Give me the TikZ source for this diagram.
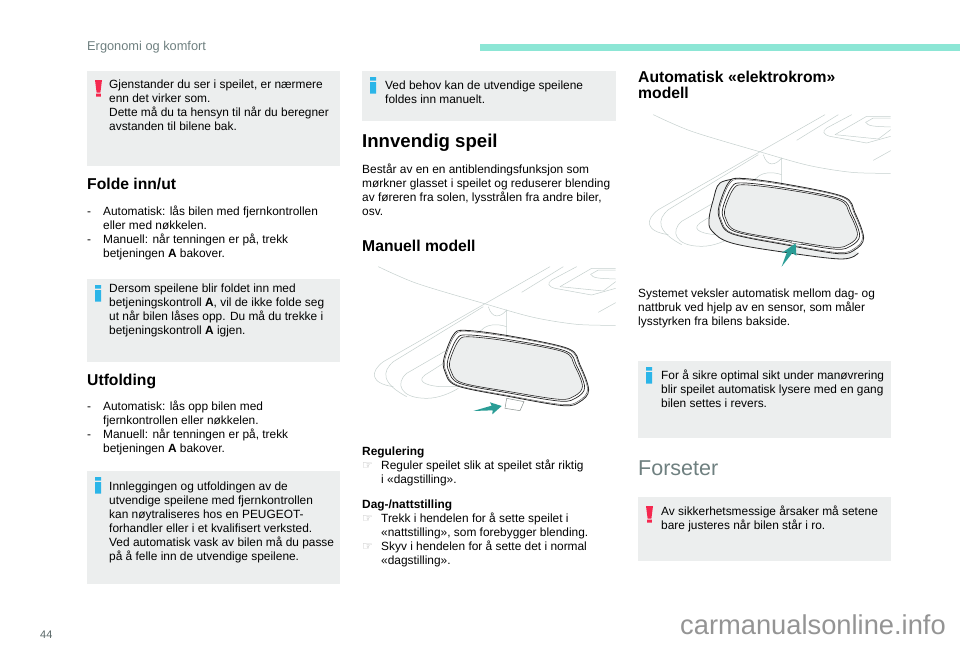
\documentclass[tikz,border=0pt]{standalone}
\usepackage{fontspec}
\setmainfont{Liberation Sans}
\newfontfamily\fingerfont{DejaVu Sans}
\usepackage{xcolor}

\definecolor{boxgrey}{HTML}{ECEEEE}
\definecolor{barmint}{HTML}{8CE6D5}
\definecolor{headgrey}{HTML}{6F8080}
\definecolor{warnred}{HTML}{F5284F}
\definecolor{infoblue}{HTML}{2BB5E8}
\definecolor{arrowteal}{HTML}{2A9D96}
\definecolor{sketchline}{HTML}{C5D0CE}

\tikzset{
  notebox/.style={fill=boxgrey,draw=none},
  bodytext/.style={font=\fontsize{11.9}{14}\selectfont,align=left,inner sep=0pt,anchor=north west,yshift=0.8pt},
  subhead/.style={font=\fontsize{15.7}{16}\bfseries\selectfont,align=left,inner sep=0pt,anchor=north west},
  sketch/.style={draw=sketchline,line width=0.5pt},
}
\newcommand{\warnicon}[2]{\fill[warnred] (#1,#2) ++(0,9) -- ++(7,0) -- ++(-1.6,12.5) -- ++(-3.8,0) -- cycle (#1+1.2,#2+22.5) rectangle (#1+5.8,#2+25.5);}
\newcommand{\infoicon}[2]{\fill[infoblue] (#1,#2+6) rectangle (#1+6,#2+9.5) (#1,#2+11) rectangle (#1+6,#2+22.5);}
\newcommand{\fing}{\makebox[19pt][l]{\fingerfont\fontsize{12}{10}\selectfont\textcolor{gray!70}{☞}}}
\newcommand{\dashitem}{\makebox[16pt][l]{-}}
\newcommand{\indentitem}{\hspace*{16pt}}
\newcommand{\fingindent}{\hspace*{19pt}}
% lines behind the mirror, in units of a third of a pixel
\newcommand{\carlines}{
  \draw[sketch] plot[smooth] coordinates {(85,35) (200,85) (400,145) (550,187) (680,208) (797,211)};
  \draw[sketch] (600,35) -- (100,320) .. controls (60,350) and (60,385) .. (130,395);
  \draw[sketch] (515,112) -- (640,35);
  \draw[sketch] (400,155) -- (130,320) .. controls (95,350) and (95,385) .. (170,425);
  \draw[sketch] (395,225) -- (170,355) .. controls (135,385) and (150,430) .. (230,430) .. controls (265,430) and (300,415) .. (325,400);
  \draw[sketch] (280,325) -- (225,360) .. controls (205,375) and (215,390) .. (270,395) -- (325,395);
  \draw[sketch] (415,155) .. controls (425,190) and (450,190) .. (470,165) -- (470,240);
  \draw[sketch] (395,225) .. controls (410,208) and (440,205) .. (470,215);
  \draw[sketch] (680,35) -- (605,75) .. controls (590,85) and (595,95) .. (615,100) -- (725,120) -- (797,100);
  \draw[sketch] (630,95) -- (725,40) -- (797,40);
  \draw[sketch] (630,95) -- (760,108) -- (797,80);
  \draw[sketch] (722,58) -- (745,45) -- (797,45);
  \draw[sketch] (722,58) .. controls (730,70) and (745,70) .. (797,72);
  \draw[sketch] (745,172) -- (797,143);
}
\newcommand{\mirrorpath}{plot[smooth cycle,tension=0.55] coordinates {(345,226) (480,243) (655,281) (690,330) (716,405) (690,440) (640,452) (480,425) (320,392) (285,350) (282,310) (310,240)}}
\newcommand{\mirrorframe}{
  \fill[white,draw=black!85,line width=0.8pt] \mirrorpath;
  \begin{scope}[shift={(498,340)},xscale=.985,yscale=.97,shift={(-498,-340)}]
    \draw[black!70,line width=0.4pt] \mirrorpath;
  \end{scope}
  \begin{scope}[shift={(498,340)},xscale=.945,yscale=.88,shift={(-498,-340)}]
    \draw[black!85,line width=0.7pt] \mirrorpath;
  \end{scope}
  \begin{scope}[shift={(498,340)},xscale=.915,yscale=.83,shift={(-498,-340)}]
    \draw[black!85,fill=boxgrey,line width=0.6pt] \mirrorpath;
  \end{scope}
}

\begin{document}
\begin{tikzpicture}[x=1pt,y=-1pt]
        \useasboundingbox (0,0) rectangle (960,649);
        \fill[white] (0,0) rectangle (960,649);
        \fill[barmint] (480,44) rectangle (960,50.5);
        \node[font=\fontsize{12.8}{14}\selectfont,text=headgrey,inner sep=0pt,anchor=base west](chapter) at (87,50) {Ergonomi og komfort};

        \fill[notebox] (87,71) rectangle (340,166);
        \fill[notebox] (87,279) rectangle (340,362);
        \fill[notebox] (87,471) rectangle (340,584);
        \fill[notebox] (362,71) rectangle (616,121);
        \fill[notebox] (638,361) rectangle (891,438);
        \fill[notebox] (638,497) rectangle (891,561);
        \warnicon{95}{71}
        \infoicon{95}{279}
        \infoicon{95}{471}
        \infoicon{370}{71}
        \infoicon{646}{361}
        \warnicon{646}{497}

        % left column
        \node[bodytext](gjenstander) at (109,80) {Gjenstander du ser i speilet, er nærmere\\enn det virker som.\\Dette må du ta hensyn til når du beregner\\avstanden til bilene bak.};
        \node[subhead](folde) at (87,178) {Folde inn/ut};
        \node[bodytext](foldelist) at (87,206) {\dashitem Automatisk: lås bilen med fjernkontrollen\\\indentitem eller med nøkkelen.\\\dashitem Manuell: når tenningen er på, trekk\\\indentitem betjeningen \textbf{A} bakover.};
        \node[bodytext](dersom) at (109,284) {Dersom speilene blir foldet inn med\\betjeningskontroll \textbf{A}, vil de ikke folde seg\\ut når bilen låses opp. Du må du trekke i\\betjeningskontroll \textbf{A} igjen.};
        \node[subhead](utfolding) at (87,374) {Utfolding};
        \node[bodytext](utfoldlist) at (87,401) {\dashitem Automatisk: lås opp bilen med\\\indentitem fjernkontrollen eller nøkkelen.\\\dashitem Manuell: når tenningen er på, trekk\\\indentitem betjeningen \textbf{A} bakover.};
        \node[bodytext](innlegging) at (109,482) {Innleggingen og utfoldingen av de\\utvendige speilene med fjernkontrollen\\kan nøytraliseres hos en PEUGEOT-\\forhandler eller i et kvalifisert verksted.\\Ved automatisk vask av bilen må du passe\\på å felle inn de utvendige speilene.};

        % middle column
        \node[bodytext](vedbehov) at (385,81) {Ved behov kan de utvendige speilene\\foldes inn manuelt.};
        \node[font=\fontsize{18.6}{20}\bfseries\selectfont,inner sep=0pt,anchor=base west](innvendig) at (362,147) {Innvendig speil};
        \node[bodytext](bestar) at (362,164) {Består av en en antiblendingsfunksjon som\\mørkner glasset i speilet og reduserer blending\\av føreren fra solen, lysstrålen fra andre biler,\\osv.};
        \node[subhead](manuell) at (362,240) {Manuell modell};
        \node[bodytext](regulering) at (362,447) {\textbf{Regulering}\\\fing Reguler speilet slik at speilet står riktig\\\fingindent i «dagstilling».};
        \node[bodytext](dagnatt) at (362,500) {\textbf{Dag-/nattstilling}\\\fing Trekk i hendelen for å sette speilet i\\\fingindent «nattstilling», som forebygger blending.\\\fing Skyv i hendelen for å sette det i normal\\\fingindent «dagstilling».};

        % right column
        \node[subhead](automatisk) at (638,71) {Automatisk «elektrokrom»\\modell};
        \node[bodytext](systemet) at (638,289) {Systemet veksler automatisk mellom dag- og\\nattbruk ved hjelp av en sensor, som måler\\lysstyrken fra bilens bakside.};
        \node[bodytext](optimal) at (661,370) {For å sikre optimal sikt under manøvrering\\blir speilet automatisk lysere med en gang\\bilen settes i revers.};
        \node[font=\fontsize{21.5}{26}\selectfont,text=headgrey,inner sep=0pt,anchor=base west](forseter) at (638,475) {Forseter};
        \node[bodytext](sikkerhet) at (661,506) {Av sikkerhetsmessige årsaker må setene\\bare justeres når bilen står i ro.};

        \node[font=\fontsize{11}{14}\selectfont,text=headgrey!80!black,inner sep=0pt,anchor=base west](pageno) at (40,638) {44};
        \node[font=\fontsize{27.3}{28}\selectfont,text=black!42,inner sep=0pt,anchor=base west](watermark) at (680,634) {carmanualsonline.info};

        % manual mirror
        \begin{scope}[shift={(350,255)},x=0.3333pt,y=-0.3333pt]
          \carlines
          \draw[sketchline!70!black,fill=white,line width=0.5pt] (470,430) -- (465,460) -- (510,467) -- (522,440) -- cycle;
          \mirrorframe
          \fill[arrowteal] (370,468) -- (425,452) -- (420,442) -- (455,453) -- (427,478) -- (428,466) -- cycle;
        \end{scope}

        % automatic mirror
        \begin{scope}[shift={(625,103)},x=0.3333pt,y=-0.3333pt]
          \carlines
          \fill[boxgrey,draw=black!85,line width=0.8pt] plot[smooth,tension=0.6] coordinates {(345,226) (285,240) (265,290) (252,350) (262,385) (320,420) (480,448) (650,468) (700,450)};
          \mirrorframe
          \draw[black!70,fill=white,line width=0.4pt] (500,414) -- (532,420) -- (530,425) -- (498,420) -- cycle;
          \fill[arrowteal] (470,491) -- (486,447) -- (470,450) -- (512,421) -- (514,458) -- (502,450) -- cycle;
        \end{scope}
\end{tikzpicture}
\end{document}
